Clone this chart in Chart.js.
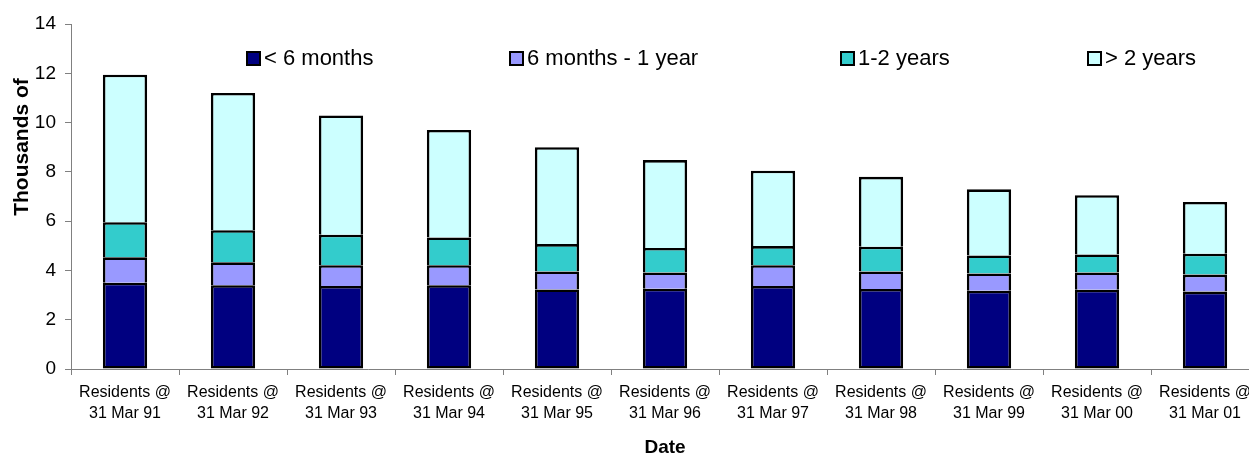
<!DOCTYPE html>
<html>
<head>
<meta charset="utf-8">
<script src="https://cdn.jsdelivr.net/npm/chart.js"></script>
<style>
  body { margin: 0; overflow: hidden; background: #fff; font-family: "Liberation Sans", Arial, sans-serif; }
  #wrap { position: relative; width: 1249px; height: 455px; overflow: hidden; }
  .item { position: absolute; top: 47px; height: 22px; display: flex; align-items: center; font-size: 22px; white-space: nowrap; color: #000; }
  .item span { display: inline-block; width: 11px; height: 11px; border: 2px solid #000; margin-right: 3px; }
</style>
</head>
<body>
<div id="wrap">
  <canvas id="chart" width="1260" height="455"></canvas>
  <div id="legend"></div>
</div>
<script>
var dates = [
    ["Residents @", "31 Mar 91"], ["Residents @", "31 Mar 92"], ["Residents @", "31 Mar 93"],
    ["Residents @", "31 Mar 94"], ["Residents @", "31 Mar 95"], ["Residents @", "31 Mar 96"],
    ["Residents @", "31 Mar 97"], ["Residents @", "31 Mar 98"], ["Residents @", "31 Mar 99"],
    ["Residents @", "31 Mar 00"], ["Residents @", "31 Mar 01"]
];
var seriesNames = ["< 6 months", "6 months - 1 year", "1-2 years", "> 2 years"];
var seriesColors = ["#000080", "#9999FF", "#33CCCC", "#CCFFFF"];

// thousands of residents
var under6m = [3.50, 3.40, 3.37, 3.40, 3.23, 3.26, 3.37, 3.25, 3.18, 3.22, 3.14];
var m6to1y = [1.03, 0.93, 0.84, 0.81, 0.73, 0.66, 0.84, 0.71, 0.70, 0.70, 0.69];
var y1to2 = [1.43, 1.30, 1.24, 1.13, 1.11, 0.99, 0.78, 1.00, 0.73, 0.73, 0.85];
var over2y = [5.98, 5.57, 4.84, 4.36, 3.93, 3.57, 3.06, 2.84, 2.68, 2.40, 2.10];

var yTicks = [0, 2, 4, 6, 8, 10, 12, 14];

Chart.defaults.font.family = "'Liberation Sans', Arial, sans-serif";
Chart.defaults.color = "#000";

var allSeries = [under6m, m6to1y, y1to2, over2y];
var datasets = allSeries.map(function (values, i) {
    return {
        label: seriesNames[i],
        data: values,
        backgroundColor: seriesColors[i],
        borderColor: "#000",
        borderWidth: 2.6,
        borderSkipped: i === 0 ? false : "start",
        categoryPercentage: 1,
        barPercentage: 0.41
    };
});

// legend sits inside the plot, spaced like the original
var legendLeft = [246, 509, 840, 1087];
var legend = document.getElementById("legend");
seriesNames.forEach(function (name, i) {
    var div = document.createElement("div");
    div.className = "item";
    div.style.left = legendLeft[i] + "px";
    div.innerHTML = '<span style="background:' + seriesColors[i] + '"></span>';
    div.appendChild(document.createTextNode(name));
    legend.appendChild(div);
});

var yTitle = {
    id: "yTitle",
    afterDraw: function (chart) {
        var ctx = chart.ctx;
        ctx.save();
        ctx.translate(22, 147);
        ctx.rotate(-Math.PI / 2);
        ctx.font = "bold 21px 'Liberation Sans', Arial, sans-serif";
        ctx.fillStyle = "#000";
        ctx.textAlign = "center";
        ctx.textBaseline = "middle";
        ctx.fillText("Thousands of", 0, 0);
        ctx.restore();
    }
};

new Chart("chart", {
    type: "bar",
    data: {
        labels: dates,
        datasets: datasets
    },
    options: {
        responsive: false,
        animation: false,
        layout: { padding: { top: 24, right: 1, left: 0, bottom: 0 } },
        plugins: {
            legend: { display: false },
            tooltip: { enabled: false }
        },
        scales: {
            x: {
                stacked: true,
                grid: { drawOnChartArea: false, offset: true, color: "#808080", tickLength: 6 },
                border: { color: "#808080" },
                ticks: { font: { size: 16, lineHeight: 1.3 }, padding: 7, maxRotation: 0, autoSkip: false },
                title: { display: true, text: "Date", font: { size: 19, weight: "bold", lineHeight: 0.8 }, padding: 0 },
                afterFit: function (s) { s.height = 86; }
            },
            y: {
                stacked: true,
                min: 0,
                max: 14,
                afterBuildTicks: function (s) { s.ticks = yTicks.map(function (v) { return { value: v }; }); },
                ticks: { font: { size: 19 }, padding: 9 },
                grid: { drawOnChartArea: false, color: "#808080", tickLength: 6 },
                border: { color: "#808080" },
                afterFit: function (s) { s.width = 71; }
            }
        }
    },
    plugins: [yTitle]
});
</script>
</body>
</html>
